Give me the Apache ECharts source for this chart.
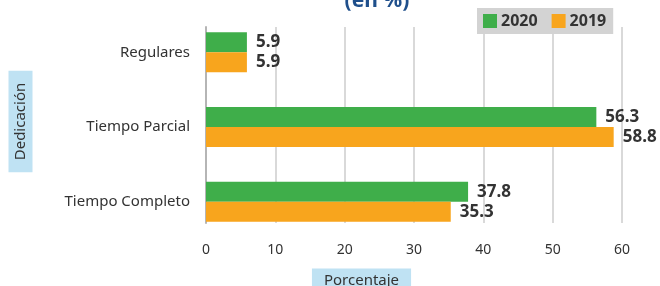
<!DOCTYPE html>
<html>
<head>
<meta charset="utf-8">
<script src="https://cdn.jsdelivr.net/npm/echarts@6/dist/echarts.min.js"></script>
<style>
html,body{margin:0;padding:0;background:#fff;}
#chart{width:660px;height:286px;}
</style>
</head>
<body>
<div id="chart"></div>
<script>
var categories = ['Regulares', 'Tiempo Parcial', 'Tiempo Completo'];
var values2020 = [5.9, 56.3, 37.8];
var values2019 = [5.9, 58.8, 35.3];
var xTicks = [0, 10, 20, 30, 40, 50, 60];

var FONT = '"Noto Sans", "Open Sans", sans-serif';
var chart = echarts.init(document.getElementById('chart'), null, {renderer: 'canvas'});

var valueLabel = {
  show: true, position: 'right', distance: 9,
  fontFamily: FONT, fontSize: 17, fontWeight: 'bold', color: '#333',
  formatter: function (p) { return p.value.toFixed(1); }
};

chart.setOption({
  animation: false,
  backgroundColor: '#fff',
  textStyle: {fontFamily: FONT},
  legend: {
    data: ['2020', '2019'],
    left: 477, top: 8,
    backgroundColor: '#d3d3d3',
    padding: [5, 7, 5, 6],
    itemWidth: 14, itemHeight: 14, itemGap: 14,
    icon: 'rect',
    textStyle: {fontFamily: FONT, fontSize: 16, fontWeight: 'bold', color: '#333', padding: [0, 0, 0, -1]}
  },
  grid: [
    {left: 206, right: 38, top: 15, bottom: 47},
    {left: 206, right: 38, top: 27, bottom: 63}
  ],
  xAxis: [
    {
      type: 'value', gridIndex: 0, min: xTicks[0], max: xTicks[xTicks.length - 1], interval: 10,
      axisLine: {show: false}, axisTick: {show: false}, splitLine: {show: false},
      axisLabel: {fontFamily: FONT, fontSize: 14, color: '#333', margin: 4}
    },
    {
      type: 'value', gridIndex: 1, min: xTicks[0], max: xTicks[xTicks.length - 1], interval: 10,
      axisLine: {show: false}, axisTick: {show: false}, axisLabel: {show: false},
      splitLine: {show: true, lineStyle: {color: '#cccccc', width: 1.5}}
    }
  ],
  yAxis: [
    {
      type: 'category', gridIndex: 0, data: categories, inverse: true,
      axisLine: {show: false}, axisTick: {show: false},
      axisLabel: {fontFamily: FONT, fontSize: 15, color: '#333', margin: 16, padding: [0, 0, 12, 0]}
    },
    {
      type: 'category', gridIndex: 1, data: categories, inverse: true,
      axisLine: {show: true, lineStyle: {color: '#b5b5b5', width: 2}},
      axisTick: {show: false}, axisLabel: {show: false}, splitLine: {show: false}
    }
  ],
  series: [
    {
      name: '2020', type: 'bar', xAxisIndex: 0, yAxisIndex: 0,
      data: values2020, barWidth: 20, barGap: '0%',
      itemStyle: {color: '#3fae4a'}, label: valueLabel
    },
    {
      name: '2019', type: 'bar', xAxisIndex: 0, yAxisIndex: 0,
      data: values2019, barWidth: 20, barGap: '0%',
      itemStyle: {color: '#f8a51d'}, label: valueLabel
    }
  ],
  graphic: [
    {
      type: 'text', x: 377, y: 12,
      style: {text: '(en %)', fontFamily: FONT, fontSize: 21, fontWeight: 'bold', fill: '#1f4f8b',
        textAlign: 'center', textVerticalAlign: 'bottom'}
    },
    {
      type: 'text', x: 20.5, y: 121.5, rotation: Math.PI / 2,
      style: {text: 'Dedicación', fontFamily: FONT, fontSize: 15, fill: '#333',
        textAlign: 'center', textVerticalAlign: 'middle',
        backgroundColor: '#bfe2f3', padding: [5, 12, 4, 12]}
    },
    {
      type: 'text', x: 361.5, y: 281,
      style: {text: 'Porcentaje', fontFamily: FONT, fontSize: 15, fill: '#333',
        textAlign: 'center', textVerticalAlign: 'middle',
        backgroundColor: '#bfe2f3', padding: [5, 12, 5, 12]}
    }
  ]
});
</script>
</body>
</html>
